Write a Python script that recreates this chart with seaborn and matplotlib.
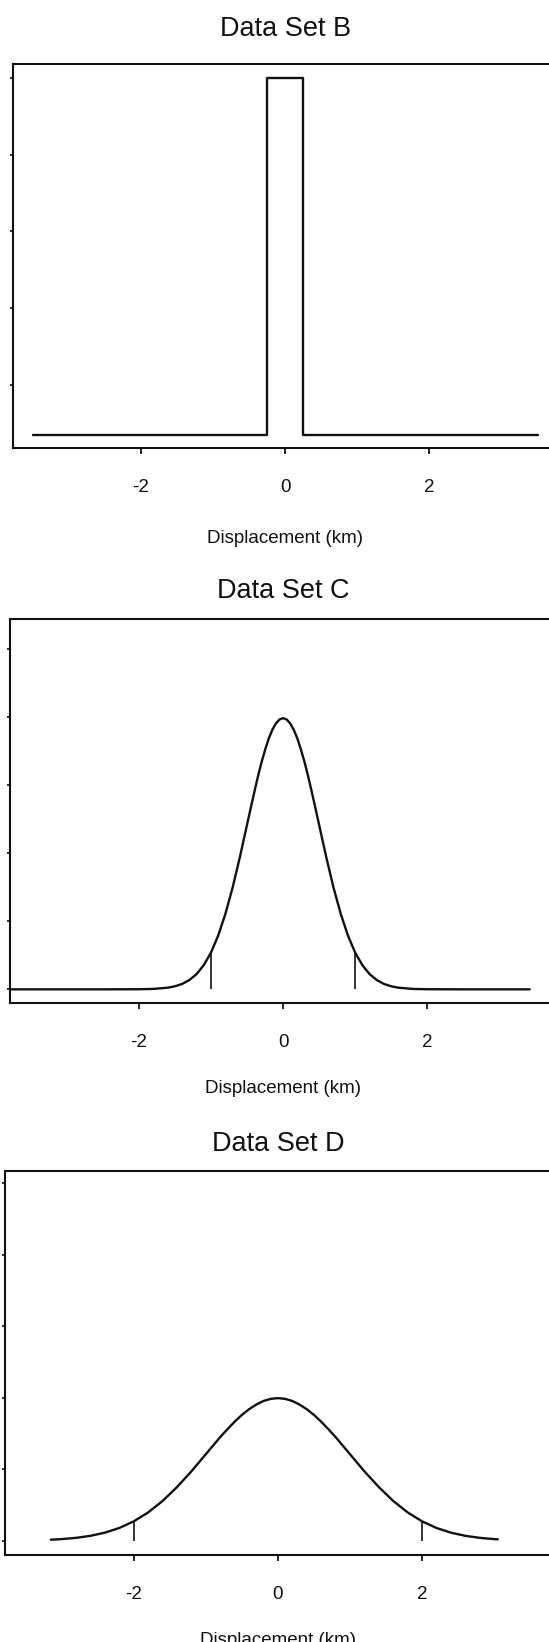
import numpy as np
import pandas as pd
import seaborn as sns
import matplotlib.pyplot as plt

# ---- values ----
x_ticks = [-2, 0, 2]
x_tick_labels = ["-2", "0", "2"]

# Data Set B: narrow box profile
b_x = [-3.5, -0.25, -0.25, 0.25, 0.25, 3.5]
b_y = [0.0, 0.0, 2.0, 2.0, 0.0, 0.0]
b_yticks = [0.28, 0.71, 1.14, 1.57, 2.0]

# Data Set C: narrow bell curve, markers at +-1 km
c_x = [-3.78, -2.5, -2.0, -1.8, -1.6, -1.5, -1.4, -1.3, -1.2, -1.1, -1.0,
       -0.9, -0.8, -0.7, -0.6, -0.5, -0.45, -0.4, -0.35, -0.3, -0.25, -0.2,
       -0.15, -0.1, -0.05, 0.0, 0.05, 0.1, 0.15,
       0.2, 0.25, 0.3, 0.35, 0.4, 0.45, 0.5, 0.6, 0.7, 0.8, 0.9, 1.0,
       1.1, 1.2, 1.3, 1.4, 1.5, 1.6, 1.8, 2.0, 2.5, 3.42]
c_y = [0.0, 0.0, 0.0003, 0.0012, 0.0048, 0.0089, 0.0158, 0.0272, 0.0448, 0.071, 0.108,
       0.158, 0.222, 0.299, 0.388, 0.484, 0.532, 0.579, 0.625, 0.667, 0.704, 0.737,
       0.763, 0.782, 0.794, 0.798, 0.794, 0.782, 0.763,
       0.737, 0.704, 0.667, 0.625, 0.579, 0.532, 0.484, 0.388, 0.299, 0.222, 0.158, 0.108,
       0.071, 0.0448, 0.0272, 0.0158, 0.0089, 0.0048, 0.0012, 0.0003, 0.0, 0.0]
c_marks = [-1.0, 1.0]
c_mark_top = [0.108, 0.108]

# Data Set D: wide bell curve, markers at +-2 km
d_x = [-3.15, -3.0, -2.8, -2.6, -2.4, -2.2, -2.0, -1.8, -1.6, -1.4, -1.2, -1.0,
       -0.9, -0.8, -0.7, -0.6, -0.5, -0.4, -0.3, -0.2, -0.1, 0.0,
       0.1, 0.2, 0.3, 0.4, 0.5, 0.6, 0.7, 0.8, 0.9, 1.0,
       1.2, 1.4, 1.6, 1.8, 2.0, 2.2, 2.4, 2.6, 2.8, 3.0, 3.05]
d_y = [0.0028, 0.0044, 0.0079, 0.0136, 0.0224, 0.0355, 0.054, 0.079, 0.111, 0.150, 0.194, 0.242,
       0.266, 0.290, 0.312, 0.333, 0.352, 0.368, 0.381, 0.391, 0.397, 0.399,
       0.397, 0.391, 0.381, 0.368, 0.352, 0.333, 0.312, 0.290, 0.266, 0.242,
       0.194, 0.150, 0.111, 0.079, 0.054, 0.0355, 0.0224, 0.0136, 0.0079, 0.0044, 0.0038]
d_marks = [-2.0, 2.0]
d_mark_top = [0.054, 0.054]
cd_yticks = [0.0, 0.2, 0.4, 0.6, 0.8, 1.0]

sns.set_style("ticks")
plt.rcParams["font.family"] = ["Liberation Sans", "DejaVu Sans"]

fig = plt.figure(figsize=(5.49, 16.42), dpi=100)
ax_b = fig.add_axes([0.023, 0.7272, 0.993, 0.2339])
ax_c = fig.add_axes([0.0191, 0.3892, 0.993, 0.2339])
ax_d = fig.add_axes([0.0097, 0.0530, 0.993, 0.2339])

ink = "#111111"
lw = 1.7

sns.lineplot(x=b_x, y=b_y, sort=False, estimator=None, color=ink, lw=lw, ax=ax_b)
sns.lineplot(x=c_x, y=c_y, sort=False, estimator=None, color=ink, lw=lw, ax=ax_c)
sns.lineplot(x=d_x, y=d_y, sort=False, estimator=None, color=ink, lw=lw, ax=ax_d)
ax_c.vlines(c_marks, 0, c_mark_top, color=ink, lw=1.2)
ax_d.vlines(d_marks, 0, d_mark_top, color=ink, lw=1.2)

# axis, title, y range, y ticks, title pad, xlabel pad
panels = [(ax_b, "Data Set B", (-0.075, 2.08), b_yticks, 20, 24),
          (ax_c, "Data Set C", (-0.04, 1.09), cd_yticks, 15, 21),
          (ax_d, "Data Set D", (-0.04, 1.035), cd_yticks, 14, 21)]

for ax, title, ylim, yt, tpad, xpad in panels:
    ax.set_xlim(-3.78, 3.78)
    ax.set_ylim(*ylim)
    ax.set_xticks(x_ticks)
    ax.set_xticklabels(x_tick_labels)
    ax.set_yticks(yt)
    ax.set_yticklabels([])
    ax.tick_params(axis="x", direction="out", length=4.5, width=1.3, pad=18,
                   labelsize=13.5, colors=ink)
    ax.tick_params(axis="y", direction="out", length=2, width=1.2, colors=ink)
    for side in ["left", "top", "bottom", "right"]:
        ax.spines[side].set_linewidth(1.5)
        ax.spines[side].set_color(ink)
    ax.set_title(title, fontsize=19.5, pad=tpad, color=ink)
    ax.set_xlabel("Displacement (km)", fontsize=13.5, labelpad=xpad, color=ink)
    ax.set_ylabel("")

fig.savefig("out.png", dpi=100, facecolor="white")
